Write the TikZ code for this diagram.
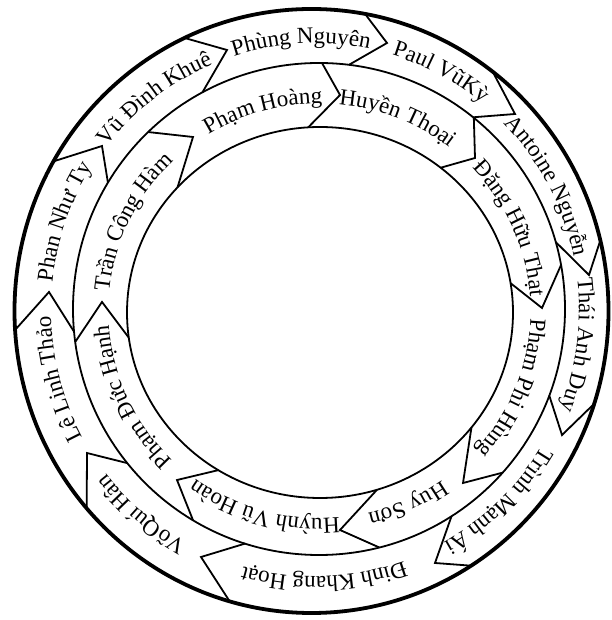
\documentclass[tikz,border=0pt]{standalone}
\usepackage{fontspec}
\setmainfont{Liberation Serif}
\usetikzlibrary{calc,decorations.text}
\begin{document}
\begin{tikzpicture}[x=1pt,y=1pt,
  ringline/.style={line width=1.8pt},
  rimline/.style={line width=3.8pt},
  chev/.style={line width=1.8pt, line join=miter},
  lbl/.style={decorate, decoration={text along path, text align=center, text={#1}}}]
\fontsize{23}{27}\selectfont
\useasboundingbox (0,0) rectangle (611,620);
\coordinate (co) at (311.5,309);
\coordinate (cm) at (319,311);
\coordinate (ci) at (320,307.5);
% rings
\draw[rimline] (co) ellipse [x radius=297pt, y radius=302pt];
\draw[ringline] (cm) circle [radius=246pt];
\draw[ringline] (ci) ellipse [x radius=193pt, y radius=185.5pt];
% outer ring chevrons
\draw[chev] ($(co)+(115.3:297pt and 302pt)$) -- (227,570) -- ($(cm)+(118.3:246pt)$);
\draw[chev] ($(co)+(79.6:297pt and 302pt)$) -- (387,577) -- ($(cm)+(83.0:246pt)$);
\draw[chev] ($(co)+(52.4:297pt and 302pt)$) -- (515,506) -- ($(cm)+(51.2:246pt)$);
\draw[chev] ($(co)+(13.5:297pt and 302pt)$) -- (589,345) -- ($(cm)+(15.8:246pt)$);
\draw[chev] ($(co)+(-17.9:297pt and 302pt)$) -- (562,185) -- ($(cm)+(-20.6:246pt)$);
\draw[chev] ($(co)+(-57.5:297pt and 302pt)$) -- (435,57) -- ($(cm)+(-57.4:246pt)$);
\draw[chev] ($(co)+(-106.0:297pt and 302pt)$) -- (201,63) -- ($(cm)+(-107.5:246pt)$);
\draw[chev] ($(co)+(-139.2:297pt and 302pt)$) -- (87,167) -- ($(cm)+(-141.2:246pt)$);
\draw[chev] ($(co)+(-176.4:297pt and 302pt)$) -- (49,328) -- ($(cm)+(-174.7:246pt)$);
\draw[chev] ($(co)+(150.3:297pt and 302pt)$) -- (102,474) -- ($(cm)+(149.1:246pt)$);
% inner ring chevrons
\draw[chev] ($(cm)+(134.0:246pt)$) -- (193,483) -- ($(ci)+(137.6:193pt and 185.5pt)$);
\draw[chev] ($(cm)+(89.3:246pt)$) -- (340,525) -- ($(ci)+(93.5:193pt and 185.5pt)$);
\draw[chev] ($(cm)+(51.0:246pt)$) -- (475,462) -- ($(ci)+(51.3:193pt and 185.5pt)$);
\draw[chev] ($(cm)+(10.3:246pt)$) -- (542,312) -- ($(ci)+(9.1:193pt and 185.5pt)$);
\draw[chev] ($(cm)+(-41.7:246pt)$) -- (463,137) -- ($(ci)+(-38.3:193pt and 185.5pt)$);
\draw[chev] ($(cm)+(-75.8:246pt)$) -- (340,90) -- ($(ci)+(-72.8:193pt and 185.5pt)$);
\draw[chev] ($(cm)+(-120.8:246pt)$) -- (177,140) -- ($(ci)+(-121.8:193pt and 185.5pt)$);
\draw[chev] ($(cm)+(-172.3:246pt)$) -- (102,318) -- ($(ci)+(-172.2:193pt and 185.5pt)$);
% outer ring labels
\begin{scope}[shift={(315,310)}]
\path[lbl={Phùng  Nguyên}] (138:264pt and 266.5pt) arc[start angle=138, end angle=48, x radius=264pt, y radius=266.5pt];
\path[lbl={Paul VũKỳ}] (107:264pt and 266.5pt) arc[start angle=107, end angle=17, x radius=264pt, y radius=266.5pt];
\path[lbl={Antoine Nguyễn}] (73:264pt and 266.5pt) arc[start angle=73, end angle=-17, x radius=264pt, y radius=266.5pt];
\path[lbl={Thái Anh Duy}] (37.5:264pt and 266.5pt) arc[start angle=37.5, end angle=-52.5, x radius=264pt, y radius=266.5pt];
\path[lbl={Trình Mạnh Ái}] (-1:264pt and 266.5pt) arc[start angle=-1, end angle=-91, x radius=264pt, y radius=266.5pt];
\path[lbl={Đinh  Khang  Hoạt}] (-43:264pt and 266.5pt) arc[start angle=-43, end angle=-133, x radius=264pt, y radius=266.5pt];
\path[lbl={VõQuí Hân}] (-85.5:264pt and 266.5pt) arc[start angle=-85.5, end angle=-175.5, x radius=264pt, y radius=266.5pt];
\path[lbl={Lê  Linh Thảo}] (-120:264pt and 266.5pt) arc[start angle=-120, end angle=-210, x radius=264pt, y radius=266.5pt];
\path[lbl={Phan Như  Ty}] (205.7:264pt and 266.5pt) arc[start angle=205.7, end angle=115.7, x radius=264pt, y radius=266.5pt];
\path[lbl={Vũ Đình Khuê}] (172.3:264pt and 266.5pt) arc[start angle=172.3, end angle=82.3, x radius=264pt, y radius=266.5pt];
\end{scope}
% inner ring labels
\begin{scope}[shift={(319.5,309)}]
\path[lbl={Phạm  Hoàng}] (150.6:211pt and 207.5pt) arc[start angle=150.6, end angle=60.6, x radius=211pt, y radius=207.5pt];
\path[lbl={Huyền Thoại}] (113.2:211pt and 207.5pt) arc[start angle=113.2, end angle=23.2, x radius=211pt, y radius=207.5pt];
\path[lbl={Đặng Hữu Thạt}] (68.7:211pt and 207.5pt) arc[start angle=68.7, end angle=-21.3, x radius=211pt, y radius=207.5pt];
\path[lbl={Phạm Phi Hùng}] (23:211pt and 207.5pt) arc[start angle=23, end angle=-67, x radius=211pt, y radius=207.5pt];
\path[lbl={Huy Sơn}] (-20.5:211pt and 207.5pt) arc[start angle=-20.5, end angle=-110.5, x radius=211pt, y radius=207.5pt];
\path[lbl={Huỳnh Vũ Hoàn}] (-60.4:211pt and 207.5pt) arc[start angle=-60.4, end angle=-150.4, x radius=211pt, y radius=207.5pt];
\path[lbl={Phạm Đức Hạnh}] (-110.3:211pt and 207.5pt) arc[start angle=-110.3, end angle=-200.3, x radius=211pt, y radius=207.5pt];
\path[lbl={Trần Công Hàm}] (199.3:211pt and 207.5pt) arc[start angle=199.3, end angle=109.3, x radius=211pt, y radius=207.5pt];
\end{scope}
\end{tikzpicture}
\end{document}
